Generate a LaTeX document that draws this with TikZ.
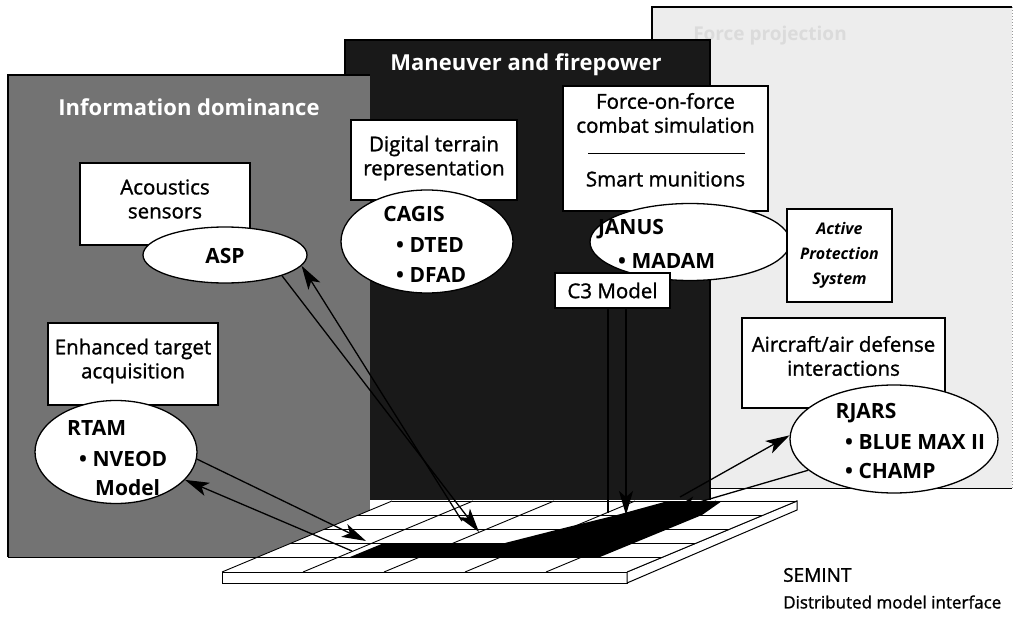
\documentclass[tikz,border=0pt]{standalone}
\usepackage{fontspec}
\setmainfont{Open Sans}[UprightFeatures={FakeBold=1.2}]
\usetikzlibrary{shapes.geometric,arrows.meta}
\begin{document}
\begin{tikzpicture}[x=1pt,y=-1pt,
  box/.style={draw, line width=1.3pt, fill=white, inner sep=0pt, align=center, font=\fontsize{20.5}{24}\selectfont},
  oval/.style={ellipse, draw, line width=1.3pt, fill=white, inner sep=0pt},
  txt/.style={inner sep=0pt, font=\fontsize{20.5}{24}\selectfont, align=center},
  captxt/.style={inner sep=0pt, font=\fontsize{17}{20}\selectfont},
  otxt/.style={inner sep=0pt, font=\fontsize{21}{24}\selectfont\bfseries},
  ttl/.style={inner sep=0pt, text=white, font=\fontsize{22}{26}\selectfont\bfseries},
  gridline/.style={line width=0.9pt},
  arr/.style={line width=1.3pt, -{Stealth[length=24pt,width=14pt,inset=6pt]}},
  plainline/.style={line width=1.3pt},
]
\useasboundingbox (0,0) rectangle (1015,634);
\fill[white] (0,0) rectangle (1015,634);

% ---- panel 3 (back, light)
\fill[black!7] (652,7) rectangle (1012,488);
\draw[line width=1.8pt] (652,488) -- (652,7) -- (1012,7);
\draw[black!40, line width=0.8pt, dash pattern=on 1pt off 2pt] (1012,7) -- (1012,488);
\draw[line width=0.8pt] (652,488) -- (1012,488);
\node[ttl, text=black!14, font=\fontsize{19}{22}\selectfont\bfseries] (t3) at (770,36) {Force projection};

% ---- panel 2 (middle, dark)
\fill[black!90] (345,40) rectangle (710,500);
\draw[line width=1.2pt] (345,500) -- (345,40) -- (710,40) -- (710,500);
\node[ttl] (t2) at (526,65) {Maneuver and firepower};

% ---- panel 1 (front, grey)
\fill[black!55] (8,75) rectangle (370,557);
\draw[line width=1.8pt] (8,557) -- (8,75) -- (370,75);
\draw[line width=0.8pt] (8,557) -- (370,557);
\node[ttl] (t1) at (189,107) {Information dominance};

% ---- SEMINT grid platform
\draw[line width=1pt, fill=white] (222,572) rectangle (627,583);
\draw[line width=1pt, fill=white] (627,572) -- (797,501) -- (797,510) -- (627,583) -- cycle;
\fill[white] (222,572) -- (627,572) -- (797,501) -- (392,501) -- cycle;
\fill[black] (350,557) -- (600,557) -- (634,543) -- (668,529) -- (702,515) -- (722,501)
  -- (668,501) -- (617,515) -- (560,529) -- (505,543) -- (384,543) -- cycle;
\foreach \k in {0,...,5}
  \draw[gridline] ({222+34*\k},{572-14.2*\k}) -- ({627+34*\k},{572-14.2*\k});
\foreach \u in {0,...,5}
  \draw[gridline] ({222+81*\u},572) -- ({392+81*\u},501);

% ---- grid end points of connectors
\coordinate (g1) at (366,541);
\coordinate (g2) at (352,551);
\coordinate (g3) at (479,532);
\coordinate (g4) at (462,521);
\coordinate (g5) at (608,513);
\coordinate (g6) at (626,515);
\coordinate (g7) at (680,497);
\coordinate (g8) at (672,510);

% ---- Information dominance
\node[box, minimum width=170pt, minimum height=82pt] (acbox) at (165,204) {};
\node[txt] (actxt) at (165,199) {Acoustics\\sensors};
\node[oval, minimum width=164pt, minimum height=56pt] (asp) at (225,255) {};
\node[otxt] (asptxt) at (225,256) {ASP};

\node[box, minimum width=170pt, minimum height=82pt] (etbox) at (133,364) {};
\node[txt] (ettxt) at (133,361) {Enhanced target\\acquisition};
\node[oval, minimum width=162pt, minimum height=103pt] (rtam) at (116,452) {};
\node[otxt, anchor=west] (rtam1) at (67,428) {RTAM};
\node[otxt, anchor=west] (rtam2) at (79,459) {• NVEOD};
\node[otxt, anchor=west] (rtam3) at (95,488) {Model};

% ---- Maneuver and firepower
\node[box, minimum width=166pt, minimum height=80pt] (dtbox) at (434,160) {};
\node[txt] (dttxt) at (434,158) {Digital terrain\\representation};
\node[oval, minimum width=172pt, minimum height=103pt] (cagis) at (427,241.5) {};
\node[otxt] (cagis1) at (414,214) {CAGIS};
\node[otxt, anchor=west] (cagis2) at (396,245) {• DTED};
\node[otxt, anchor=west] (cagis3) at (396,275) {• DFAD};

\node[box, minimum width=205pt, minimum height=125pt] (ffbox) at (665.5,148.5) {};
\node[txt] (fftxt) at (665.5,113) {Force-on-force\\combat simulation};
\draw[line width=0.8pt] (588,153) -- (745,153);
\node[txt] (smtxt) at (665.5,179) {Smart munitions};
\node[oval, minimum width=200pt, minimum height=77pt] (janus) at (690,242) {};
\node[otxt] (janus1) at (631,229) {JANUS};
\node[otxt, anchor=west] (janus2) at (618,261) {• MADAM};
\node[box, minimum width=115pt, minimum height=35pt] (c3) at (612.5,290.5) {C3 Model};
\node[box, minimum width=105pt, minimum height=93pt,
      font=\fontsize{16}{25}\selectfont\bfseries\itshape] (aps) at (839.5,255.5) {Active\\Protection\\System};

% ---- third panel
\node[box, minimum width=203pt, minimum height=90pt] (acfbox) at (843.5,363) {};
\node[txt] (acftxt) at (843.5,356) {Aircraft/air defense\\interactions};
\node[oval, minimum width=208pt, minimum height=108pt] (rjars) at (894,439) {};
\node[otxt] (rjars1) at (866,413) {RJARS};
\node[otxt, anchor=west] (rjars2) at (845,442) {• BLUE MAX II};
\node[otxt, anchor=west] (rjars3) at (845,471) {• CHAMP};

% ---- connectors
\draw[arr] (rtam.-5) -- (g1);
\draw[arr] (g2) -- (rtam.-22);
\draw[arr] (asp.-20) -- (g3);
\draw[arr] (g4) -- (asp.-8);
\draw[arr] (c3.south -| g6) -- (g6);
\draw[plainline] (g5) -- (c3.south -| g5);
\draw[arr] (g7) -- (rjars.178);
\draw[arr] (rjars.200) -- (g8);

% ---- caption
\node[captxt, anchor=west, font=\fontsize{19}{22}\selectfont] (semint) at (783,575) {SEMINT};
\node[captxt, anchor=west] (dmi) at (783,602) {Distributed model interface};
\end{tikzpicture}
\end{document}
